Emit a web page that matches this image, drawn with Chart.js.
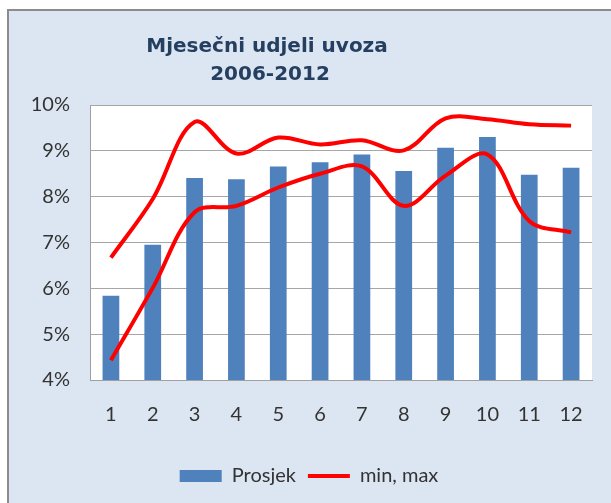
<!DOCTYPE html>
<html>
<head>
<meta charset="utf-8">
<script src="https://cdn.jsdelivr.net/npm/chart.js@4/dist/chart.umd.min.js"></script>
<style>
  html, body { margin: 0; padding: 0; background: #ffffff; overflow: hidden; }
  .frame {
    position: absolute; left: 7px; top: 9px; width: 700px; height: 600px;
    background: #dce6f2; border: 2px solid #8c8c8c;
  }
  .wrap { position: absolute; left: 0; top: 0; width: 611px; height: 503px; }
</style>
</head>
<body>
<div class="frame"></div>
<div class="wrap"><canvas id="chart"></canvas></div>
<script>
// --- Data ---
const months = ['1', '2', '3', '4', '5', '6', '7', '8', '9', '10', '11', '12'];
const prosjek = [5.84, 6.95, 8.41, 8.38, 8.66, 8.75, 8.92, 8.56, 9.07, 9.30, 8.48, 8.63];
const maxVals = [6.67, 7.95, 9.63, 8.94, 9.29, 9.14, 9.23, 9.01, 9.71, 9.69, 9.58, 9.55];
const minVals = [4.43, 6.01, 7.66, 7.80, 8.20, 8.50, 8.66, 7.80, 8.46, 8.92, 7.47, 7.22];
const titleLines = ['Mjesečni udjeli uvoza', '2006-2012'];

const textFont = "Lato, 'Open Sans', sans-serif";

// white plot area + title drawn off-centre like the original
const plotBg = {
    id: 'plotBg',
    beforeDraw(chart) {
        const a = chart.chartArea;
        const ctx = chart.ctx;
        ctx.save();
        ctx.fillStyle = '#ffffff';
        ctx.fillRect(a.left, a.top, a.right - a.left, a.bottom - a.top);
        ctx.restore();
    },
    afterDraw(chart) {
        const ctx = chart.ctx;
        ctx.save();
        ctx.fillStyle = '#243f60';
        ctx.font = "bold 20px 'DejaVu Sans', Verdana, sans-serif";
        ctx.textAlign = 'center';
        ctx.textBaseline = 'alphabetic';
        ctx.fillText(titleLines[0], 267, 52);
        ctx.fillText(titleLines[1], 270, 80);
        ctx.restore();
    }
};

new Chart(document.getElementById('chart'), {
    type: 'bar',
    data: {
        labels: months,
        datasets: [
            {
                label: 'Prosjek',
                data: prosjek,
                backgroundColor: '#4f81bd',
                borderWidth: 0,
                categoryPercentage: 1,
                barPercentage: 0.4,
                pointStyle: 'rect',
                order: 2
            },
            {
                type: 'line',
                label: 'min, max',
                data: maxVals,
                borderColor: '#ff0000',
                backgroundColor: '#ff0000',
                borderWidth: 4,
                pointRadius: 0,
                pointStyle: 'line',
                tension: 0.35,
                order: 1
            },
            {
                type: 'line',
                label: 'min',
                data: minVals,
                borderColor: '#ff0000',
                backgroundColor: '#ff0000',
                borderWidth: 4,
                pointRadius: 0,
                pointStyle: 'line',
                tension: 0.35,
                order: 1
            }
        ]
    },
    options: {
        responsive: true,
        maintainAspectRatio: false,
        animation: false,
        layout: { padding: { top: 105, left: 26, right: 19, bottom: 7 } },
        scales: {
            x: {
                grid: { display: false, drawTicks: false },
                border: { display: true, color: '#a0a0a0', width: 1 },
                ticks: { color: '#333333', font: { family: textFont, size: 20 }, padding: 23 },
                afterFit(scale) { scale.height = 74; }
            },
            y: {
                min: 4,
                max: 10,
                ticks: {
                    stepSize: 1,
                    color: '#333333',
                    font: { family: textFont, size: 20 },
                    padding: 20,
                    callback: v => v + '%'
                },
                grid: { color: '#a6a6a6', lineWidth: 1, drawTicks: false },
                border: { display: true, color: '#a0a0a0', width: 1 },
                afterFit(scale) { scale.width = 64; }
            }
        },
        plugins: {
            title: { display: false },
            tooltip: { enabled: false },
            legend: {
                position: 'bottom',
                labels: {
                    usePointStyle: true,
                    pointStyleWidth: 42,
                    boxHeight: 12,
                    padding: 12,
                    color: '#333333',
                    font: { family: textFont, size: 20 },
                    filter: item => item.datasetIndex !== 2,
                    sort: (a, b) => a.datasetIndex - b.datasetIndex
                }
            }
        }
    },
    plugins: [plotBg]
});
</script>
</body>
</html>
